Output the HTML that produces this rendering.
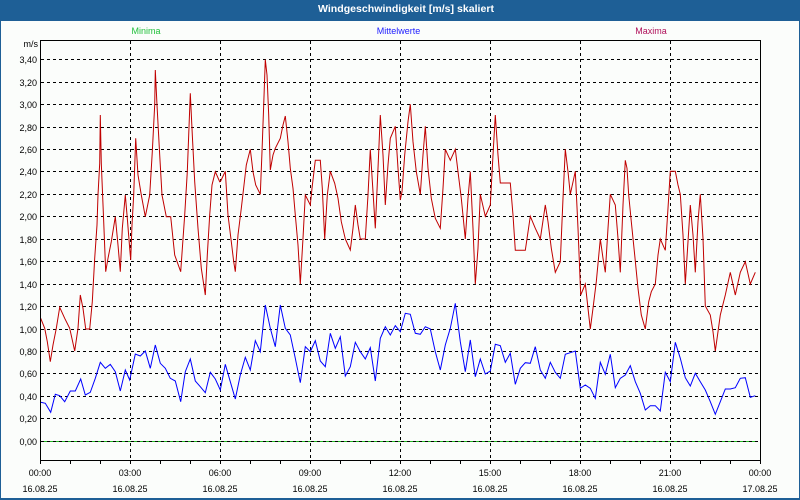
<!DOCTYPE html>
<html><head><meta charset="utf-8"><style>
html,body{margin:0;padding:0;background:#fbfdfb;}
svg{display:block;font-family:"Liberation Sans",sans-serif;}
</style></head><body>
<svg width="800" height="500" viewBox="0 0 800 500" xmlns="http://www.w3.org/2000/svg">
<rect x="0" y="0" width="800" height="500" fill="#fbfdfb"/>
<rect x="0" y="0" width="800" height="21" fill="#1e5f96"/>
<rect x="0" y="0" width="1" height="500" fill="#1e5f96"/>
<rect x="799" y="0" width="1" height="500" fill="#1e5f96"/>
<rect x="0" y="498" width="800" height="2" fill="#1e5f96"/>
<text x="318" y="12" fill="#ffffff" font-size="10.5" font-weight="bold" textLength="176" lengthAdjust="spacingAndGlyphs">Windgeschwindigkeit [m/s] skaliert</text>

<text x="146" y="34" fill="#22c03c" font-size="9" text-anchor="middle">Minima</text>
<text x="398.5" y="34" fill="#2020ff" font-size="9" text-anchor="middle">Mittelwerte</text>
<text x="651" y="34" fill="#b0105a" font-size="9" text-anchor="middle">Maxima</text>

<text x="38" y="47" font-size="9" text-anchor="end" fill="#000">m/s</text>

<!-- minima line -->
<line x1="40" y1="441.5" x2="757" y2="441.5" stroke="#22bb22" stroke-width="1"/>

<g stroke="#000" stroke-width="1" stroke-dasharray="3,3" fill="none">
<line x1="41" y1="59.5" x2="760" y2="59.5"/>
<line x1="41" y1="82.5" x2="760" y2="82.5"/>
<line x1="41" y1="104.5" x2="760" y2="104.5"/>
<line x1="41" y1="127.5" x2="760" y2="127.5"/>
<line x1="41" y1="149.5" x2="760" y2="149.5"/>
<line x1="41" y1="171.5" x2="760" y2="171.5"/>
<line x1="41" y1="194.5" x2="760" y2="194.5"/>
<line x1="41" y1="216.5" x2="760" y2="216.5"/>
<line x1="41" y1="239.5" x2="760" y2="239.5"/>
<line x1="41" y1="261.5" x2="760" y2="261.5"/>
<line x1="41" y1="284.5" x2="760" y2="284.5"/>
<line x1="41" y1="306.5" x2="760" y2="306.5"/>
<line x1="41" y1="329.5" x2="760" y2="329.5"/>
<line x1="41" y1="351.5" x2="760" y2="351.5"/>
<line x1="41" y1="373.5" x2="760" y2="373.5"/>
<line x1="41" y1="396.5" x2="760" y2="396.5"/>
<line x1="41" y1="418.5" x2="760" y2="418.5"/>
<line x1="41" y1="441.5" x2="760" y2="441.5"/>
<line x1="130.5" y1="41" x2="130.5" y2="460"/>
<line x1="220.5" y1="41" x2="220.5" y2="460"/>
<line x1="310.5" y1="41" x2="310.5" y2="460"/>
<line x1="400.5" y1="41" x2="400.5" y2="460"/>
<line x1="490.5" y1="41" x2="490.5" y2="460"/>
<line x1="580.5" y1="41" x2="580.5" y2="460"/>
<line x1="670.5" y1="41" x2="670.5" y2="460"/>
</g>

<g font-size="9" text-anchor="end" fill="#000">
<text x="37" y="63">3,40</text>
<text x="37" y="86">3,20</text>
<text x="37" y="108">3,00</text>
<text x="37" y="131">2,80</text>
<text x="37" y="153">2,60</text>
<text x="37" y="175">2,40</text>
<text x="37" y="198">2,20</text>
<text x="37" y="220">2,00</text>
<text x="37" y="243">1,80</text>
<text x="37" y="265">1,60</text>
<text x="37" y="288">1,40</text>
<text x="37" y="310">1,20</text>
<text x="37" y="333">1,00</text>
<text x="37" y="355">0,80</text>
<text x="37" y="377">0,60</text>
<text x="37" y="400">0,40</text>
<text x="37" y="422">0,20</text>
<text x="37" y="445">0,00</text>
</g>

<!-- maxima -->
<polyline fill="none" stroke="#c00000" stroke-width="1" points="40.7,318.3 44.7,328.3 47.3,341.7 50.3,361.7 53,345 56.3,328.3 59.7,307.3 64.7,318.3 69.7,328.3 74.7,351 78,328.3 80.3,295 83,308.3 85.7,329 89.7,329 92.3,301.7 94.7,258.3 97,225 98,195 99.7,163.3 100.3,115 101.3,163.3 103.7,221.7 105.7,271.7 108,258.3 111.3,241.7 115.3,216.7 118,245 120.3,271.7 122.3,228.3 125.3,195 127.3,218.3 129.7,248.3 130.7,260 132,225 133.7,195 135.7,138.3 138,175 141.3,195 145.3,216.7 149.7,195 152.3,151.7 154.7,105 155.3,70 157,105 159.7,155 162,195 166.3,216.7 170.7,216.7 174.7,255 180.7,271.7 184.7,215 187.3,171.7 188.7,135 190.3,93.3 192.3,135 194.7,181.7 198,228.3 201.3,268.3 205.3,295 207.3,255 209.7,215 212,185 215.3,171.7 219.7,181.7 220.7,181 225.3,171.3 228,215 231.3,241.7 233.7,261.7 235.3,271.7 238,235 241.3,208.3 244,185 246.3,165 250.3,149.3 253,171.7 255.7,185 260.3,194.3 262,151.7 263.7,105 265.3,59.7 267,75 268.7,115 270.3,170 273,155 275.3,148.3 280.3,138.3 283,125 285.3,116 288,141.7 290.3,168.3 293,188.3 295.3,215 298,245 300.3,284 303,238.3 305.3,195 310.3,205 312,188.3 315.3,160.3 320.3,160.3 322.3,188.3 324.7,239 327.3,195 330.3,171.3 334.7,183.3 338,198.3 341.3,221.7 345.3,239 350.3,250 353,228.3 355.3,205 358,225 360.3,239 365.3,239 368,195 370.3,149.3 373,191.7 375.3,228.3 378,168.3 380.3,115 383,155 385.3,205 388,165 390.3,138.3 395.3,126.3 398,168.3 400.3,200 402,191.7 404.7,155 408,121.7 410.3,104.3 413,141.7 416.3,171.7 420.3,194.3 423,155 425.3,126.3 428,168.3 431.3,198.3 435.3,218.3 440.3,228.3 443,188.3 445.3,149.3 450.3,160.3 455.3,149.3 458,171.7 461.3,198.3 465.3,239 468,198.3 470.3,171.7 473,228.3 475.3,284 478,248.3 480.3,194.3 485.3,216.3 490.3,205 493,155 495.3,115 498,155 500.3,183 510.3,183 513,215 515.3,250.3 525.3,250.3 530.3,216.3 535.3,228.3 540.3,239 545.3,205 548,221.7 551.3,248.3 555.3,272.3 560.3,261.7 563,198.3 565.3,149.3 568,171.7 570.3,194.3 575.3,171.3 578,228.3 580.7,295 585.3,284 588,308.3 590.3,329 593,308.3 596.3,281.7 600.3,239 603,258.3 605.3,272.3 608,228.3 610.3,194.3 615.3,205 618,238.3 620.3,272.3 623,205 625.3,160.3 627,168.3 628.7,195 631.3,221.7 634.7,255 638,288.3 641.3,315 645.3,329 648.7,301.7 651.3,291.7 655.3,284 658,255 660.3,239 665.3,250.3 668,208.3 670.3,171.3 675.3,171.3 678,185 680.3,194.3 683,235 685.3,284 688,241.7 690.3,205 693,235 695.3,272.3 698,221.7 700.3,194.3 703,238.3 705.3,306 710.3,315 713,331.7 715.3,351 718,331.7 720.3,315 725.3,295 730.3,272.3 735.3,295 740.3,272.3 745.3,261.7 750.3,284 755.3,272.3"/>

<!-- mittelwerte -->
<polyline fill="none" stroke="#0000ff" stroke-width="1" points="40.7,402.3 45.3,403.3 50.7,412.3 55.3,394.3 59.7,395.7 64.7,401.7 70.3,391 75.3,391 80.7,379 85.3,395 90.3,392.3 95.3,378.3 100.3,362.3 105.3,368.3 110.3,364.3 115.3,371.7 120.3,391 125.3,370 129.7,380 135.3,354 140.3,356 145.3,351 150.3,368.3 155.3,345 160.3,363.3 165.3,368.3 170.3,378.3 175.3,381 180.7,401.7 185.3,371.7 190.3,359 195.3,381 200.3,386.7 205.3,392.7 210.3,372.3 215.3,379 220.3,390 225.3,364.3 230.3,381.7 235.3,399 240.3,375 245.3,357.3 250.3,370 255.3,340.7 260.3,351.7 265.3,305 270.3,328.3 275.3,346.7 280.3,305 285.3,328.3 290.3,335 295.3,358.3 300.3,382.7 305.3,346.7 310.3,351.7 315.3,340.7 320.3,361 325.3,366.7 330.3,333.3 335.3,348.3 340.3,336.7 345.3,376 350.3,366.7 355.3,342.3 360.3,351.7 365.3,359 370.3,347.7 375.3,381 380.3,338.3 385.3,326.7 390.3,335 395.3,325.7 400.3,331.7 405.3,313.3 410.3,314.3 415.3,333.3 420.3,334.3 425.3,326.7 430.3,329 435.3,351.7 440.3,370 445.3,345 450.3,328.3 455.3,303.3 460.3,341.7 465.3,371.7 470.3,340 475.3,376.7 480.3,359 485.3,374 490.3,371 495.3,344.3 500.3,345.7 505.3,362.3 510.3,353.3 515.3,384.3 520.3,368.3 525.3,362.7 530.3,363.3 535.3,346.7 540.3,370 545.3,378.3 550.3,362.3 555.3,372.3 560.3,378.3 565.3,354.3 570.3,352.7 575.3,351 580.3,388.3 585.3,385 590.3,388.3 595.3,398.3 600.3,362.3 605.3,374.3 610.3,354.3 615.3,387.7 620.3,378.3 625.3,375 630.3,365.7 635.3,381.7 640.3,393.3 645.3,410 650.3,405.7 655.3,405.7 660.3,411 665.3,372.3 670.3,381.7 675.3,342.3 680.3,358.3 685.3,377.7 690.3,386 695.3,373.3 700.3,381.7 705.3,390 710.3,401.7 715.3,414.3 720.3,401.7 725.3,389 730.3,389 735.3,387.7 740.3,378.3 745.3,377.7 750.3,397.3 755.3,395.7"/>

<!-- frame -->
<rect x="40.5" y="40.5" width="720" height="420" fill="none" stroke="#000" stroke-width="1"/>

<!-- x ticks -->
<g stroke="#000" stroke-width="1">
<line x1="40.5" y1="461" x2="40.5" y2="464"/><line x1="70.5" y1="461" x2="70.5" y2="464"/><line x1="100.5" y1="461" x2="100.5" y2="464"/><line x1="130.5" y1="461" x2="130.5" y2="464"/><line x1="160.5" y1="461" x2="160.5" y2="464"/><line x1="190.5" y1="461" x2="190.5" y2="464"/><line x1="220.5" y1="461" x2="220.5" y2="464"/><line x1="250.5" y1="461" x2="250.5" y2="464"/><line x1="280.5" y1="461" x2="280.5" y2="464"/><line x1="310.5" y1="461" x2="310.5" y2="464"/><line x1="340.5" y1="461" x2="340.5" y2="464"/><line x1="370.5" y1="461" x2="370.5" y2="464"/><line x1="400.5" y1="461" x2="400.5" y2="464"/><line x1="430.5" y1="461" x2="430.5" y2="464"/><line x1="460.5" y1="461" x2="460.5" y2="464"/><line x1="490.5" y1="461" x2="490.5" y2="464"/><line x1="520.5" y1="461" x2="520.5" y2="464"/><line x1="550.5" y1="461" x2="550.5" y2="464"/><line x1="580.5" y1="461" x2="580.5" y2="464"/><line x1="610.5" y1="461" x2="610.5" y2="464"/><line x1="640.5" y1="461" x2="640.5" y2="464"/><line x1="670.5" y1="461" x2="670.5" y2="464"/><line x1="700.5" y1="461" x2="700.5" y2="464"/><line x1="730.5" y1="461" x2="730.5" y2="464"/><line x1="760.5" y1="461" x2="760.5" y2="464"/>
</g>

<g font-size="9" text-anchor="middle" fill="#000">
<text x="40" y="476">00:00</text><text x="40" y="492">16.08.25</text>
<text x="130" y="476">03:00</text><text x="130" y="492">16.08.25</text>
<text x="220" y="476">06:00</text><text x="220" y="492">16.08.25</text>
<text x="310" y="476">09:00</text><text x="310" y="492">16.08.25</text>
<text x="400" y="476">12:00</text><text x="400" y="492">16.08.25</text>
<text x="490" y="476">15:00</text><text x="490" y="492">16.08.25</text>
<text x="580" y="476">18:00</text><text x="580" y="492">16.08.25</text>
<text x="670" y="476">21:00</text><text x="670" y="492">16.08.25</text>
<text x="760" y="476">00:00</text><text x="760" y="492">17.08.25</text>
</g>
</svg>
</body></html>
